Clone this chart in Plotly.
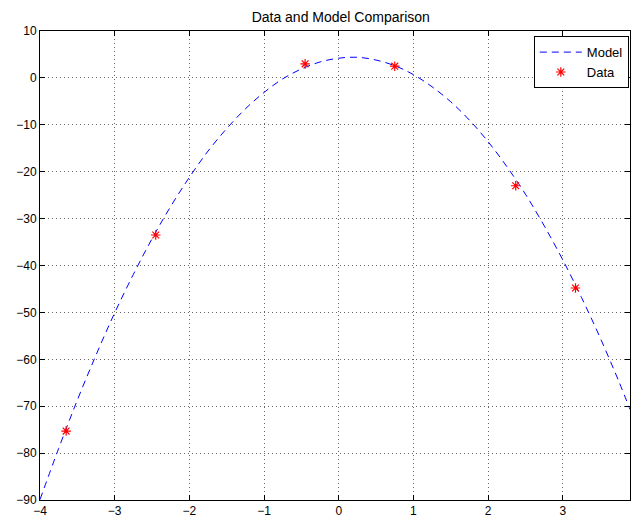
import plotly.graph_objects as go

# Model curve
model_x = [-4.0, -3.75, -3.5, -3.25, -3.0, -2.75, -2.5, -2.25, -2.0, -1.75, -1.5, -1.25,
           -1.0, -0.75, -0.5, -0.25, 0.0, 0.25, 0.5, 0.75, 1.0, 1.25, 1.5, 1.75, 2.0,
           2.25, 2.5, 2.75, 3.0, 3.25, 3.5, 3.75, 3.9]
model_y = [-89.9, -79.0, -68.7, -59.1, -50.1, -41.9, -34.3, -27.4, -21.2, -15.6, -10.8, -6.6,
           -3.1, -0.2, 1.9, 3.4, 4.2, 4.4, 3.8, 2.6, 0.7, -1.9, -5.1, -9.0, -13.6,
           -18.9, -24.8, -31.5, -38.8, -46.8, -55.4, -64.7, -70.7]

# Data points
data_x = [-3.65, -2.45, -0.45, 0.75, 2.37, 3.17]
data_y = [-75.3, -33.5, 3.0, 2.5, -23.0, -44.8]

x_ticks = [-4, -3, -2, -1, 0, 1, 2, 3]
y_ticks = [-90, -80, -70, -60, -50, -40, -30, -20, -10, 0, 10]

fig = go.Figure()
fig.add_trace(go.Scatter(x=model_x, y=model_y, mode="lines", name="Model",
                         line=dict(color="#0000ff", width=1, dash="7px,5px", shape="spline")))
fig.add_trace(go.Scatter(x=data_x, y=data_y, mode="markers", name="Data",
                         marker=dict(symbol="asterisk-open", size=8, color="#ff0000",
                                     line=dict(color="#ff0000", width=1.2))))

axis_common = dict(showline=True, linecolor="black", linewidth=1, mirror="ticks",
                   ticks="inside", ticklen=5, tickcolor="black",
                   showgrid=True, gridcolor="rgba(0,0,0,0.6)", griddash="1px,3px", gridwidth=1,
                   zeroline=False, tickfont=dict(family="Liberation Sans, Arial", size=12, color="black"))

fig.update_layout(
    width=631, height=519,
    margin=dict(l=40, r=1, t=31, b=19),
    paper_bgcolor="white", plot_bgcolor="white",
    title=dict(text="Data and Model Comparison", x=0.54, xanchor="center", y=0.967, yanchor="middle",
               font=dict(family="Liberation Sans, Arial", size=14, color="black")),
    xaxis=dict(range=[-4, 3.9], tickvals=x_ticks, **axis_common),
    yaxis=dict(range=[-90, 10], tickvals=y_ticks, **axis_common),
    legend=dict(x=0.998, xanchor="right", y=0.989, yanchor="top",
                bordercolor="black", borderwidth=1, bgcolor="white",
                font=dict(family="Liberation Sans, Arial", size=13, color="black"),
                tracegroupgap=0, itemwidth=42),
    showlegend=True,
)

fig.write_html("out.html", config={"displayModeBar": False},
               post_script="document.body.style.margin='0';document.body.style.overflow='hidden';")
